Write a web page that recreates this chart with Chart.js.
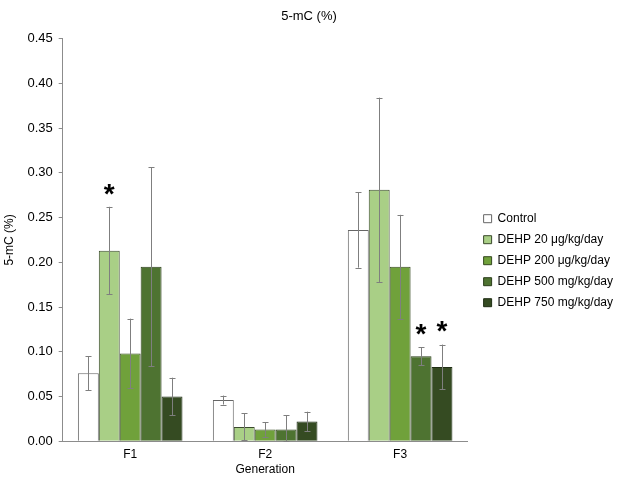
<!DOCTYPE html>
<html>
<head>
<meta charset="utf-8">
<script src="https://cdn.jsdelivr.net/npm/chart.js@4"></script>
<style>
  html, body { margin: 0; padding: 0; background: #fff; }
  #wrap { width: 630px; height: 487px; }
</style>
</head>
<body>
<div id="wrap"><canvas id="chart"></canvas></div>
<script>
// categories and values
const categories = ['F1', 'F2', 'F3'];
const seriesNames = ['Control', 'DEHP 20 μg/kg/day', 'DEHP 200 μg/kg/day', 'DEHP 500 mg/kg/day', 'DEHP 750 mg/kg/day'];

const control = [0.076, 0.046, 0.236];
const dehp20 = [0.213, 0.016, 0.281];
const dehp200 = [0.098, 0.013, 0.195];
const dehp500 = [0.195, 0.013, 0.095];
const dehp750 = [0.050, 0.022, 0.083];

// error bars (+/-)
const controlErr = [0.019, 0.005, 0.042];
const dehp20Err = [0.049, 0.015, 0.103];
const dehp200Err = [0.039, 0.008, 0.058];
const dehp500Err = [0.111, 0.016, 0.010];
const dehp750Err = [0.021, 0.011, 0.025];

// significance marks (*)
const controlSig = [false, false, false];
const dehp20Sig = [true, false, false];
const dehp200Sig = [false, false, false];
const dehp500Sig = [false, false, true];
const dehp750Sig = [false, false, true];

const yTicks = [0, 0.05, 0.10, 0.15, 0.20, 0.25, 0.30, 0.35, 0.40, 0.45];

const fills = ['#ffffff', '#a9cf86', '#70a13b', '#4e7331', '#354b22'];
const borders = ['#666666', '#3a4a2c', '#34481f', '#2a3d1a', '#1f2d14'];
const values = [control, dehp20, dehp200, dehp500, dehp750];
const errors = [controlErr, dehp20Err, dehp200Err, dehp500Err, dehp750Err];
const sigs = [controlSig, dehp20Sig, dehp200Sig, dehp500Sig, dehp750Sig];

const FONT = 'Liberation Sans, Arial, sans-serif';

// error bars and asterisks, drawn through the y scale
const errorBars = {
    id: 'errorBars',
    afterDatasetsDraw(chart) {
        const ctx = chart.ctx;
        const y = chart.scales.y;
        ctx.save();
        chart.data.datasets.forEach((ds, i) => {
            const meta = chart.getDatasetMeta(i);
            meta.data.forEach((bar, j) => {
                const v = ds.data[j];
                const e = ds.errors[j];
                const top = y.getPixelForValue(v + e);
                const bottom = y.getPixelForValue(Math.max(v - e, 0));
                const x = Math.round(bar.x) + 0.5;
                ctx.strokeStyle = '#7f7f7f';
                ctx.lineWidth = 1;
                ctx.beginPath();
                ctx.moveTo(x, top);
                ctx.lineTo(x, bottom);
                ctx.moveTo(x - 3, Math.round(top) + 0.5);
                ctx.lineTo(x + 3, Math.round(top) + 0.5);
                ctx.moveTo(x - 3, Math.round(bottom) + 0.5);
                ctx.lineTo(x + 3, Math.round(bottom) + 0.5);
                ctx.stroke();
                if (ds.sig[j]) {
                    ctx.fillStyle = '#000';
                    ctx.font = 'bold 28px ' + FONT;
                    ctx.textAlign = 'center';
                    ctx.textBaseline = 'middle';
                    ctx.fillText('*', bar.x, top - 12);
                }
            });
        });
        ctx.restore();
    }
};

// push the legend entries a little away from the plot
const legendShift = {
    id: 'legendShift',
    afterLayout(chart) {
        chart.legend.left += 7;
        chart.legend.right += 7;
    }
};

new Chart(document.getElementById('chart'), {
    type: 'bar',
    data: {
        labels: categories,
        datasets: seriesNames.map((name, i) => ({
            label: name,
            data: values[i],
            errors: errors[i],
            sig: sigs[i],
            backgroundColor: fills[i],
            borderColor: borders[i],
            borderWidth: 1,
            categoryPercentage: 0.775,
            barPercentage: 1.0
        }))
    },
    options: {
        responsive: true,
        maintainAspectRatio: false,
        animation: false,
        layout: { padding: { left: 2, right: 14, top: 0, bottom: 10 } },
        plugins: {
            title: {
                display: true,
                text: '5-mC (%)',
                color: '#000',
                font: { family: FONT, size: 13, weight: 'normal' },
                padding: { top: 9, bottom: 14 }
            },
            legend: {
                display: true,
                position: 'right',
                align: 'center',
                title: {
                    display: true,
                    text: ' ',
                    font: { family: FONT, size: 12 },
                    padding: { top: 0, bottom: 30 }
                },
                labels: {
                    color: '#000',
                    font: { family: FONT, size: 12 },
                    boxWidth: 8,
                    boxHeight: 8,
                    padding: 9
                }
            },
            tooltip: { enabled: false }
        },
        scales: {
            x: {
                grid: { display: false, drawTicks: false },
                border: { display: true, color: '#8c8c8c' },
                ticks: { color: '#000', font: { family: FONT, size: 12 }, padding: 6 },
                title: {
                    display: true,
                    text: 'Generation',
                    color: '#000',
                    font: { family: FONT, size: 12 },
                    padding: { top: -5, bottom: 0 }
                }
            },
            y: {
                min: 0,
                max: 0.45,
                afterBuildTicks(axis) {
                    axis.ticks = yTicks.map(v => ({ value: v }));
                },
                grid: {
                    display: true,
                    drawOnChartArea: false,
                    drawTicks: true,
                    tickLength: 4,
                    color: '#8c8c8c'
                },
                border: { display: true, color: '#8c8c8c' },
                ticks: {
                    color: '#000',
                    font: { family: FONT, size: 13 },
                    padding: 6,
                    callback: v => Number(v).toFixed(2)
                },
                title: {
                    display: true,
                    text: '5-mC (%)',
                    color: '#000',
                    font: { family: FONT, size: 12 },
                    padding: { top: 0, bottom: 5 }
                }
            }
        }
    },
    plugins: [errorBars, legendShift]
});
</script>
</body>
</html>
